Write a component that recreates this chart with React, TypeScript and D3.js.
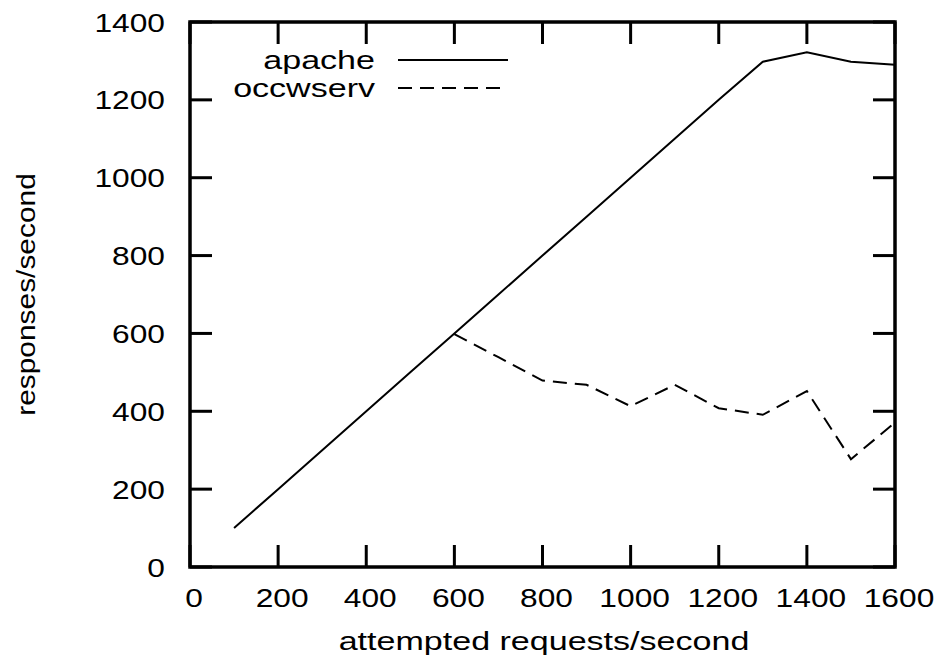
import { useEffect, useRef } from "react";
import * as d3 from "d3";

const attempted = [100, 200, 300, 400, 500, 600, 700, 800, 900, 1000, 1100, 1200, 1300, 1400, 1500, 1600];
const apache = [100, 200, 300, 400, 500, 600, 700, 800, 900, 1000, 1100, 1200, 1298, 1322, 1298, 1290];
const occwservX = [600, 700, 800, 900, 1000, 1100, 1200, 1300, 1400, 1500, 1600];
const occwserv = [598, 539, 479, 468, 413, 468, 408, 391, 452, 277, 371];
const xTicks = [0, 200, 400, 600, 800, 1000, 1200, 1400, 1600];
const yTicks = [0, 200, 400, 600, 800, 1000, 1200, 1400];
const seriesNames = ["apache", "occwserv"];

const App = () => {
  const svgRef = useRef<SVGSVGElement | null>(null);

  useEffect(() => {
    const svg = d3.select(svgRef.current);
    svg.selectAll("*").remove();

    var width = 943;
    var height = 663;
    var left = 190, right = 895, top = 22, bottom = 567;
    var font = "'Liberation Sans', Arial, sans-serif";
    var fs = 26;
    var stretch = 1.22; // gnuplot output looks horizontally stretched
    var wordStretch = 1.31;

    var x = d3.scaleLinear().domain([0, 1600]).range([left, right]);
    var y = d3.scaleLinear().domain([0, 1400]).range([bottom, top]);

    svg.attr("width", width).attr("height", height);
    svg.append("rect").attr("width", width).attr("height", height).attr("fill", "#fff");

    // stretched text helper
    function label(tx: number, ty: number, txt: string, anchor: string, rot = 0, sx = stretch) {
      svg
        .append("text")
        .attr("transform", `translate(${tx},${ty}) rotate(${rot}) scale(${sx},1)`)
        .attr("text-anchor", anchor)
        .attr("font-family", font)
        .attr("font-size", fs)
        .attr("fill", "#000")
        .text(txt);
    }

    // ticks, mirrored on all sides
    var tl = 22;
    var ticks = svg.append("g").attr("stroke", "#000").attr("stroke-width", 3);
    xTicks.forEach((t) => {
      ticks.append("line").attr("x1", x(t)).attr("x2", x(t)).attr("y1", bottom).attr("y2", bottom - tl);
      ticks.append("line").attr("x1", x(t)).attr("x2", x(t)).attr("y1", top).attr("y2", top + tl);
      label(x(t) + 4, 607, String(t), "middle");
    });
    yTicks.forEach((t) => {
      ticks.append("line").attr("x1", left).attr("x2", left + tl).attr("y1", y(t)).attr("y2", y(t));
      ticks.append("line").attr("x1", right).attr("x2", right - tl).attr("y1", y(t)).attr("y2", y(t));
      label(165, y(t) + 9.5, String(t), "end");
    });

    // data lines
    var line = d3
      .line<[number, number]>()
      .x((d) => x(d[0]))
      .y((d) => y(d[1]));

    svg
      .append("path")
      .attr("d", line(attempted.map((a, i) => [a, apache[i]] as [number, number])))
      .attr("fill", "none")
      .attr("stroke", "#000")
      .attr("stroke-width", 2);

    svg
      .append("path")
      .attr("d", line(occwservX.map((a, i) => [a, occwserv[i]] as [number, number])))
      .attr("fill", "none")
      .attr("stroke", "#000")
      .attr("stroke-width", 2)
      .attr("stroke-dasharray", "14,8");

    // frame
    svg
      .append("rect")
      .attr("x", left)
      .attr("y", top)
      .attr("width", right - left)
      .attr("height", bottom - top)
      .attr("fill", "none")
      .attr("stroke", "#000")
      .attr("stroke-width", 3.5);

    // legend
    var legY = [60, 88];
    seriesNames.forEach((name, i) => {
      label(375, legY[i] + 9, name, "end", 0, wordStretch);
      svg
        .append("line")
        .attr("x1", 398)
        .attr("x2", 508)
        .attr("y1", legY[i])
        .attr("y2", legY[i])
        .attr("stroke", "#000")
        .attr("stroke-width", 2)
        .attr("stroke-dasharray", i === 1 ? "14,8" : null);
    });

    // axis titles
    label(544, 650, "attempted requests/second", "middle", 0, wordStretch);
    label(35, (top + bottom) / 2, "responses/second", "middle", -90, 1.15);
  }, []);

  return (
    <div>
      <svg ref={svgRef} style={{ position: "absolute", left: 0, top: 0 }}></svg>
    </div>
  );
};

export default App;
